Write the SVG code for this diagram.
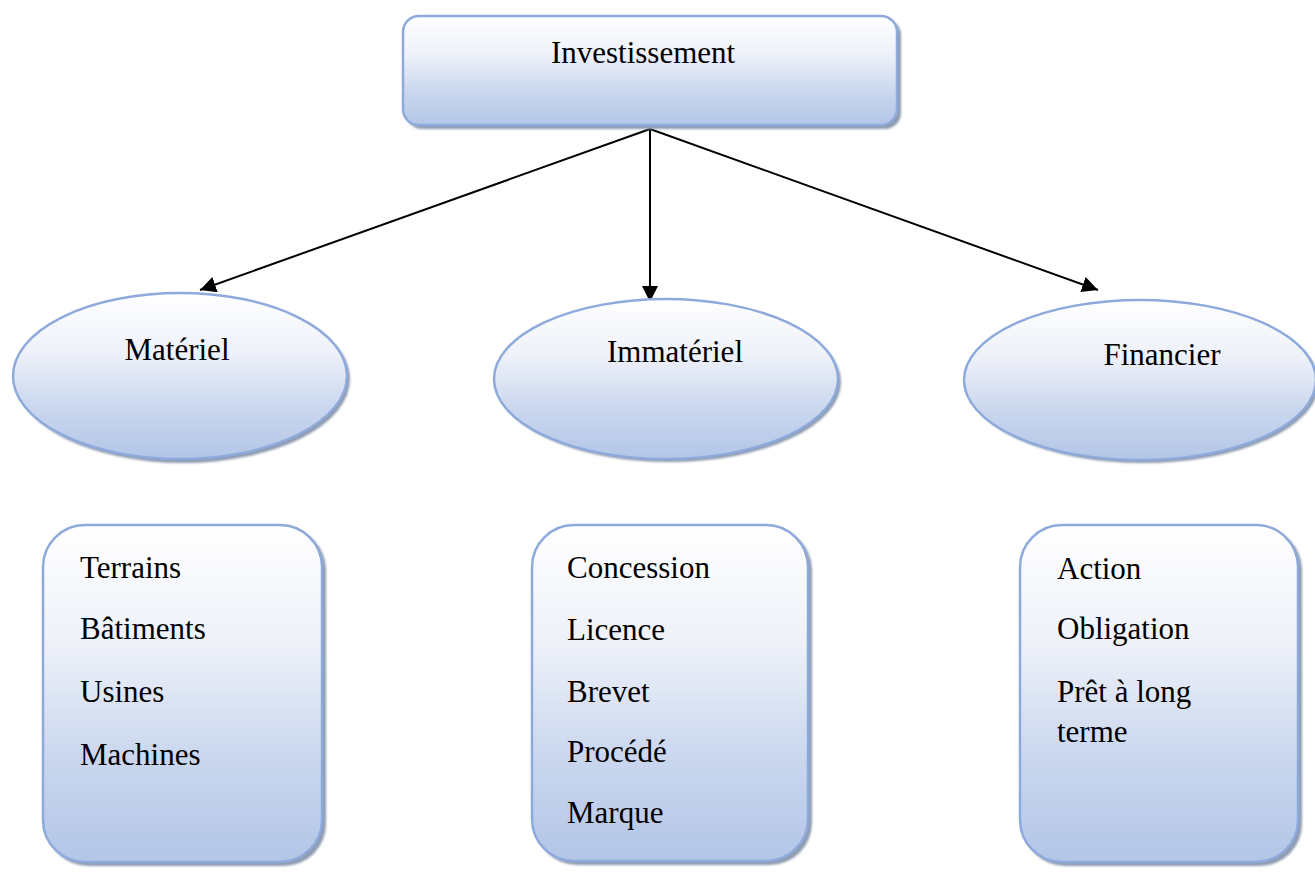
<svg xmlns="http://www.w3.org/2000/svg" width="1315" height="876" viewBox="0 0 1315 876">
<defs>
<linearGradient id="g" x1="0" y1="0" x2="0" y2="1">
<stop offset="0" stop-color="#ffffff"/>
<stop offset="0.35" stop-color="#eef1f9"/>
<stop offset="0.7" stop-color="#c9d6ee"/>
<stop offset="1" stop-color="#b3c6e7"/>
</linearGradient>
<marker id="arr" viewBox="0 0 10 10" refX="10" refY="5" markerWidth="16" markerHeight="16" markerUnits="userSpaceOnUse" orient="auto">
<path d="M0,0 L10,5 L0,10 Z" fill="#000"/>
</marker>
<filter id="blur" x="-5%" y="-5%" width="110%" height="110%"><feGaussianBlur stdDeviation="0.8"/></filter>
</defs>
<style>
.sh{fill:#8e9bb0;filter:url(#blur)}
.nd{fill:url(#g);stroke:#8eaadc;stroke-width:2.5}
.t{font-family:"Liberation Serif","Times New Roman",serif;font-size:31px;fill:#000}
.c{stroke:#000;stroke-width:2;fill:none;marker-end:url(#arr)}
</style>
<g id="connectors">
<line class="c" x1="650" y1="129" x2="200" y2="290"/>
<line class="c" x1="650" y1="129" x2="650" y2="302"/>
<line class="c" x1="650" y1="129" x2="1098" y2="290"/>
</g>
<g id="investissement">
<rect class="sh" x="406" y="19" width="495" height="110" rx="16"/>
<rect class="nd" x="403" y="16" width="494" height="109" rx="16"/>
<text class="t" x="643" y="63" text-anchor="middle">Investissement</text>
</g>
<g id="materiel">
<ellipse class="sh" cx="183" cy="379" rx="167" ry="84"/>
<ellipse class="nd" cx="180" cy="376" rx="167" ry="83"/>
<text class="t" x="177" y="360" text-anchor="middle">Matériel</text>
</g>
<g id="immateriel">
<ellipse class="sh" cx="669" cy="382" rx="172" ry="80"/>
<ellipse class="nd" cx="666" cy="379" rx="172" ry="80"/>
<text class="t" x="675" y="362" text-anchor="middle">Immatériel</text>
</g>
<g id="financier">
<ellipse class="sh" cx="1143" cy="383" rx="176" ry="80"/>
<ellipse class="nd" cx="1140" cy="380" rx="176" ry="80"/>
<text class="t" x="1162" y="365" text-anchor="middle">Financier</text>
</g>
<g id="materiel-list">
<rect class="sh" x="46" y="528" width="280" height="338" rx="42"/>
<rect class="nd" x="43" y="525" width="279" height="337" rx="42"/>
<text class="t" x="80" y="578">Terrains</text>
<text class="t" x="80" y="639">Bâtiments</text>
<text class="t" x="80" y="702">Usines</text>
<text class="t" x="80" y="765">Machines</text>
</g>
<g id="immateriel-list">
<rect class="sh" x="535" y="528" width="277" height="337" rx="42"/>
<rect class="nd" x="532" y="525" width="276" height="336" rx="42"/>
<text class="t" x="567" y="578">Concession</text>
<text class="t" x="567" y="640">Licence</text>
<text class="t" x="567" y="702">Brevet</text>
<text class="t" x="567" y="762">Procédé</text>
<text class="t" x="567" y="823">Marque</text>
</g>
<g id="financier-list">
<rect class="sh" x="1023" y="528" width="279" height="338" rx="42"/>
<rect class="nd" x="1020" y="525" width="278" height="337" rx="42"/>
<text class="t" x="1057" y="579">Action</text>
<text class="t" x="1057" y="639">Obligation</text>
<text class="t" x="1057" y="702">Prêt à long</text>
<text class="t" x="1057" y="742">terme</text>
</g>
</svg>
